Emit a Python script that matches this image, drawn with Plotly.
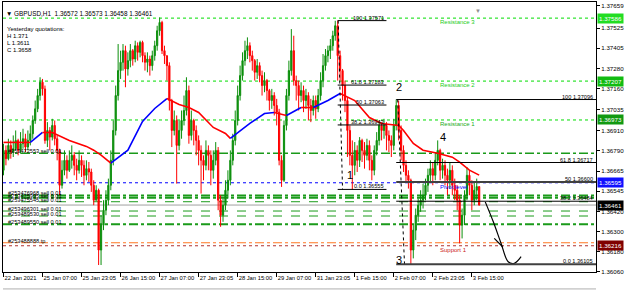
import plotly.graph_objects as go

# ---------------- data (GBPUSD H1) ----------------
first_open = 1.3667
closes = [
 1.3679,1.3674,1.3682,1.3678,1.3680,1.3685,1.3679,1.3683,1.3686,1.3681,
 1.3685,1.3689,1.3697,1.3704,1.3712,1.3720,1.3716,1.3685,1.3691,1.3687,
 1.3694,1.3686,1.3679,1.3658,1.3667,1.3673,1.3667,1.3673,1.3676,1.3670,
 1.3667,1.3673,1.3670,1.3664,1.3668,1.3666,1.3658,1.3649,1.3655,1.3619,
 1.3634,1.3643,1.3649,1.3658,1.3673,1.3691,1.3712,1.3727,1.3732,1.3739,
 1.3728,1.3733,1.3739,1.3734,1.3742,1.3738,1.3744,1.3736,1.3732,1.3734,
 1.3730,1.3736,1.3742,1.3751,1.3756,1.3739,1.3736,1.3730,1.3709,1.3691,
 1.3697,1.3682,1.3691,1.3697,1.3703,1.3715,1.3688,1.3697,1.3691,1.3685,
 1.3679,1.3673,1.3670,1.3679,1.3676,1.3667,1.3673,1.3679,1.3649,1.3640,
 1.3646,1.3655,1.3661,1.3673,1.3685,1.3697,1.3712,1.3724,1.3733,1.3739,
 1.3742,1.3736,1.3733,1.3726,1.3730,1.3724,1.3718,1.3721,1.3715,1.3709,
 1.3712,1.3706,1.3702,1.3673,1.3661,1.3694,1.3712,1.3727,1.3739,1.3721,
 1.3718,1.3712,1.3715,1.3709,1.3712,1.3706,1.3703,1.3709,1.3704,1.3712,
 1.3721,1.3730,1.3736,1.3739,1.3742,1.3748,1.3754,1.3736,1.3727,1.3718,
 1.3709,1.3691,1.3676,1.3670,1.3679,1.3673,1.3685,1.3679,1.3676,1.3682,
 1.3673,1.3667,1.3679,1.3685,1.3694,1.3691,1.3694,1.3688,1.3685,1.3682,
 1.3694,1.3706,1.3691,1.3679,1.3670,1.3664,1.3661,1.3619,1.3631,1.3640,
 1.3646,1.3649,1.3652,1.3658,1.3664,1.3668,1.3664,1.3673,1.3679,1.3667,
 1.3670,1.3664,1.3661,1.3667,1.3658,1.3655,1.3649,1.3634,1.3640,1.3652,
 1.3664,1.3658,1.3649,1.3655,1.36572,1.36461]
highs = [
 1.3683,1.3682,1.3686,1.3685,1.3688,1.3691,1.3686,1.3690,1.3692,1.3689,
 1.3691,1.3694,1.3700,1.3709,1.3716,1.3723,1.3722,1.3718,1.3696,1.3693,
 1.3698,1.3697,1.3688,1.3680,1.3673,1.3679,1.3676,1.3679,1.3682,1.3678,
 1.3674,1.3679,1.3676,1.3673,1.3673,1.3672,1.3668,1.3661,1.3658,1.3656,
 1.3640,1.3649,1.3655,1.3662,1.3679,1.3697,1.3718,1.3743,1.3739,1.3743,
 1.3742,1.3738,1.3743,1.3740,1.3745,1.3744,1.3745,1.3745,1.3738,1.3738,
 1.3736,1.3739,1.3745,1.3754,1.3759,1.3757,1.3742,1.3736,1.3732,1.3710,
 1.3703,1.3700,1.3697,1.3703,1.3712,1.3723,1.3718,1.3703,1.3698,1.3694,
 1.3688,1.3682,1.3676,1.3685,1.3682,1.3679,1.3679,1.3684,1.3681,1.3652,
 1.3650,1.3661,1.3667,1.3679,1.3689,1.3703,1.3718,1.3730,1.3738,1.3745,
 1.3747,1.3744,1.3739,1.3734,1.3734,1.3732,1.3727,1.3726,1.3722,1.3716,
 1.3716,1.3714,1.3710,1.3704,1.3676,1.3697,1.3716,1.3733,1.3752,1.3748,
 1.3724,1.3721,1.3720,1.3718,1.3716,1.3714,1.3710,1.3712,1.3712,1.3716,
 1.3726,1.3737,1.3740,1.3742,1.3746,1.3751,1.3757,1.37571,1.3739,1.3728,
 1.3721,1.3711,1.3694,1.3685,1.3684,1.3682,1.3687,1.3686,1.3684,1.3686,
 1.3685,1.3676,1.3682,1.3690,1.3697,1.3696,1.3698,1.3696,1.3691,1.3688,
 1.3698,1.37096,1.3709,1.3694,1.3682,1.3673,1.3667,1.3662,1.3634,1.3644,
 1.3650,1.3655,1.3659,1.3662,1.3668,1.3673,1.3672,1.3678,1.3685,1.3680,
 1.3674,1.3673,1.3668,1.3672,1.3670,1.3662,1.3658,1.3652,1.3644,1.3655,
 1.3669,1.3667,1.3661,1.3660,1.3662,1.36573]
lows = [
 1.3664,1.3670,1.3673,1.3674,1.3675,1.3679,1.3676,1.3677,1.3680,1.3678,
 1.3679,1.3682,1.3686,1.3695,1.3702,1.3709,1.3712,1.3683,1.3681,1.3679,
 1.3685,1.3682,1.3673,1.3652,1.3656,1.3664,1.3662,1.3666,1.3668,1.3664,
 1.3661,1.3665,1.3663,1.3658,1.3661,1.3660,1.3654,1.3646,1.3649,1.3610,
 1.3610,1.3631,1.3640,1.3646,1.3655,1.3670,1.3688,1.3709,1.3722,1.3727,
 1.3717,1.3724,1.3729,1.3730,1.3732,1.3733,1.3735,1.3732,1.3727,1.3726,
 1.3724,1.3727,1.3733,1.3739,1.3748,1.3737,1.3731,1.3721,1.3703,1.3681,
 1.3688,1.3659,1.3679,1.3686,1.3694,1.3700,1.3683,1.3685,1.3682,1.3676,
 1.3670,1.3653,1.3661,1.3667,1.3667,1.3658,1.3662,1.3670,1.3643,1.3633,
 1.3636,1.3643,1.3650,1.3658,1.3670,1.3682,1.3694,1.3709,1.3721,1.3730,
 1.3734,1.3732,1.3727,1.3721,1.3722,1.3720,1.3712,1.3714,1.3709,1.3703,
 1.3704,1.3700,1.3694,1.3670,1.3657,1.3660,1.3691,1.3709,1.3724,1.3718,
 1.3709,1.3703,1.3708,1.3702,1.3704,1.3697,1.3696,1.3700,1.3698,1.3702,
 1.3709,1.3717,1.3727,1.3732,1.3734,1.3739,1.3745,1.3721,1.3721,1.3709,
 1.3702,1.3675,1.3670,1.36555,1.3664,1.3666,1.3669,1.3672,1.3668,1.3673,
 1.3667,1.3661,1.3664,1.3676,1.3682,1.3685,1.3686,1.3679,1.3678,1.3675,
 1.3679,1.3691,1.3685,1.3673,1.3666,1.3660,1.3656,1.36105,1.3614,1.3625,
 1.3636,1.3642,1.3644,1.3649,1.3654,1.3660,1.3658,1.3661,1.3670,1.3661,
 1.3662,1.3658,1.3652,1.3656,1.3652,1.3649,1.3643,1.3623,1.3626,1.3634,
 1.3649,1.3652,1.3643,1.3646,1.3649,1.36458]

# moving average (read at points)
ma_bars = [0,11,16,20,27,34,37,40,44,51,57,62,67,72,76,80,86,91,93,101,107,111,
           116,122,127,133,138,144,150,155,162,164,168,172,178,184,187,191,195]
ma_vals = [1.36838,1.36838,1.36898,1.36898,1.36850,1.36814,1.36791,1.36761,1.36713,
           1.36791,1.36964,1.37042,1.37102,1.37066,1.37048,1.37018,1.36928,1.36892,
           1.36862,1.36952,1.37012,1.37018,1.37000,1.37048,1.37048,1.37090,1.37132,
           1.37090,1.36988,1.36952,1.36940,1.36910,1.36832,1.36791,1.36773,1.36749,
           1.36719,1.36671,1.36641]

time_ticks = [0,16,32,48,64,80,96,112,128,144,160,176,192]
time_labels = ["22 Jan 2021","25 Jan 07:00","25 Jan 23:05","26 Jan 15:00","27 Jan 07:00",
               "27 Jan 23:05","28 Jan 15:00","29 Jan 07:00","31 Jan 23:05","1 Feb 15:00",
               "2 Feb 07:00","2 Feb 23:05","3 Feb 15:00"]
price_ticks = [1.37659,1.37525,1.37405,1.37280,1.37160,1.37035,1.36910,1.36790,
               1.36665,1.36545,1.36420,1.36300,1.36180,1.36060]

# horizontal levels: (price, colour, dash, width)
levels = [
 (1.37586,"#00dd00","dot",1),
 (1.37207,"#00dd00","dot",1),
 (1.36973,"#00dd00","dot",1),
 (1.36772,"#1a9a1a","dashdot",1.5),
 (1.36595,"#0000ff","dot",1),
 (1.36519,"#1a9a1a","dashdot",2),
 (1.36505,"#1a9a1a","dashdot",2),
 (1.36481,"#1a9a1a","dash",1),
 (1.36461,"#a0a0a0","solid",1),
 (1.36425,"#1a9a1a","dash",1),
 (1.36395,"#1a9a1a","dash",1),
 (1.36346,"#1a9a1a","dashdot",2),
 (1.36234,"#ff7722","dashdot",1),
 (1.36216,"#b03030","dot",1),
]
order_labels = [(1.36772,"#253472553 sell 0.01"),(1.36519,"#253476968 sell 0.01"),
                (1.36505,"#253475995 sell 0.01"),(1.36481,"#253475545 sell 0.01"),
                (1.36425,"#253496301 sell 0.01"),(1.36395,"#253489530 sell 0.01"),
                (1.36346,"#253489550 sell 0.01"),(1.36234,"#253488888 tp")]
level_names = [(1.37586,"Resistance 3","#22cc22"),(1.37207,"Resistance 2","#22cc22"),
               (1.36973,"Resistance 1","#22aa22"),(1.36595,"Pivot level","#0000ff"),
               (1.36216,"Support 1","#cc2020")]
price_boxes = [(1.37586,"#22dd22"),(1.37207,"#11bb11"),(1.36973,"#119911"),
               (1.36595,"#1010ff"),(1.36461,"#000000"),(1.36216,"#800000")]

fib1_levels = [(1.37571,"100"),(1.37183,"61.8"),(1.37063,"50"),(1.36943,"38.2"),(1.36555,"0.0")]
fib1_span = (137, 157)
fib1_trend = ([137.2, 139.0], [1.37571, 1.36555])
fib2_levels = [(1.37096,"100"),(1.36717,"61.8"),(1.36600,"50"),(1.36484,"38.2"),(1.36105,"0.0")]
fib2_start = 161
fib2_trend = ([161.6, 164.4], [1.37096, 1.36105])

wave_labels = [(142,1.3664,"1"),(162,1.37174,"2"),(162,1.3613,"3"),(180,1.3687,"4")]
arrow_bars = [197.5,200.8,204.0,206.9,209.4,212.2]
arrow_vals = [1.3648,1.3636,1.3623,1.3612,1.3611,1.3615]
arrow_tick_bars = [201.2,204.6]
arrow_tick_vals = [1.3626,1.3621]

# ---------------- figure ----------------
GREEN = "#0c8f0c"
RED = "#ff0000"
n = len(closes)
bars = list(range(n))
opens = [first_open] + closes[:-1]

fig = go.Figure()
fig.add_trace(go.Candlestick(
    x=bars, open=opens, high=highs, low=lows, close=closes,
    increasing=dict(line=dict(color=GREEN, width=1), fillcolor=GREEN),
    decreasing=dict(line=dict(color=RED, width=1), fillcolor=RED),
    whiskerwidth=0, showlegend=False, hoverinfo="skip"))

# MA coloured by slope, drawn in runs
runs = []
for i in range(len(ma_bars) - 1):
    col = "#0000ff" if ma_vals[i + 1] > ma_vals[i] else "#ff0000"
    if runs and runs[-1][0] == col:
        runs[-1][1].append(i + 1)
    else:
        runs.append([col, [i, i + 1]])
for col, idx in runs:
    fig.add_trace(go.Scatter(x=[ma_bars[k] for k in idx], y=[ma_vals[k] for k in idx],
                             mode="lines", line=dict(color=col, width=1.6),
                             showlegend=False, hoverinfo="skip"))

shapes = []
for p, c, d, w in levels:
    shapes.append(dict(type="line", xref="paper", x0=0, x1=1, yref="y", y0=p, y1=p,
                       line=dict(color=c, dash=d, width=w), layer="below"))
for p, _ in fib1_levels:
    shapes.append(dict(type="line", xref="x", x0=fib1_span[0], x1=fib1_span[1], yref="y",
                       y0=p, y1=p, line=dict(color="#000000", width=1)))
for p, name in fib2_levels:
    thick = name in ("50", "0.0")
    shapes.append(dict(type="line", xref="x", x0=fib2_start, x1=245, yref="y",
                       y0=p, y1=p, line=dict(color="#404040" if thick else "#000000",
                                             width=2 if thick else 1)))
annotations = []
fs = 5.6
for p, txt in order_labels:
    annotations.append(dict(x=1, xref="x", xanchor="left", y=p, yref="y", yanchor="bottom",
                            yshift=-3, text=txt, showarrow=False,
                            font=dict(size=fs, color="#000000", family="Liberation Sans")))
for p, txt, c in level_names:
    annotations.append(dict(x=178, xref="x", xanchor="left", y=p, yref="y", yanchor="top",
                            yshift=1, text=txt, showarrow=False,
                            font=dict(size=6, color=c, family="Liberation Sans")))
for p, name in fib1_levels:
    annotations.append(dict(x=fib1_span[1], xref="x", xanchor="right", y=p, yref="y",
                            yanchor="bottom", yshift=-2, text=f"{name} {p:.5f}", showarrow=False,
                            font=dict(size=fs, color="#000000", family="Liberation Sans")))
for p, name in fib2_levels:
    annotations.append(dict(x=1, xref="paper", xanchor="right", xshift=-1, y=p, yref="y",
                            yanchor="bottom", yshift=-2, text=f"{name} {p:.5f}", showarrow=False,
                            font=dict(size=fs, color="#000000", family="Liberation Sans")))
for p, bg in price_boxes:
    annotations.append(dict(x=1, xref="paper", xanchor="left", xshift=1, y=p, yref="y",
                            text=f"{p:.5f}", showarrow=False, bgcolor=bg, borderpad=1,
                            font=dict(size=6.2, color="#ffffff", family="Liberation Sans")))
for b, p, t in wave_labels:
    annotations.append(dict(x=b, y=p, xref="x", yref="y", text=t, showarrow=False,
                            font=dict(size=11, color="#000000", family="Liberation Sans")))

fig.add_trace(go.Scatter(x=fib1_trend[0], y=fib1_trend[1], mode="lines",
                         line=dict(color="#000000", dash="dot", width=1),
                         showlegend=False, hoverinfo="skip"))
fig.add_trace(go.Scatter(x=fib2_trend[0], y=fib2_trend[1], mode="lines",
                         line=dict(color="#000000", dash="dot", width=1),
                         showlegend=False, hoverinfo="skip"))
fig.add_trace(go.Scatter(x=arrow_bars, y=arrow_vals, mode="lines",
                         line=dict(color="#000000", width=1.2, shape="spline"),
                         showlegend=False, hoverinfo="skip"))
fig.add_trace(go.Scatter(x=arrow_tick_bars, y=arrow_tick_vals, mode="lines",
                         line=dict(color="#000000", width=1.2),
                         showlegend=False, hoverinfo="skip"))

# header texts (pixel-based positions in paper coords)
def py(y):
    return 1 - (y - 1) / 271.0
def px(x):
    return (x - 3) / 595.0

annotations.append(dict(x=px(4), y=py(7), xref="paper", yref="paper", xanchor="left",
                        text="▼ GBPUSD,H1  1.36572 1.36573 1.36458 1.36461", showarrow=False,
                        font=dict(size=6.4, color="#000000", family="Liberation Sans")))
for yy, t in [(23, "Yesterday quotations:"), (30.5, "H 1.371"), (37.5, "L 1.3611"), (44.5, "C 1.3658")]:
    annotations.append(dict(x=px(5), y=py(yy), xref="paper", yref="paper", xanchor="left",
                            text=t, showarrow=False,
                            font=dict(size=6, color="#000000", family="Liberation Sans")))
annotations.append(dict(x=px(485), y=py(4), xref="paper", yref="paper", text="▼",
                        showarrow=False, font=dict(size=6, color="#909090")))
shapes.append(dict(type="line", xref="paper", x0=0, x1=1, yref="paper",
                   y0=py(289), y1=py(289), line=dict(color="#b0b0b0", width=1)))

fig.update_layout(
    width=625, height=291, margin=dict(l=3, r=27, t=1, b=19),
    paper_bgcolor="#ffffff", plot_bgcolor="#ffffff",
    shapes=shapes, annotations=annotations, showlegend=False,
    xaxis=dict(range=[-0.2, 242.9], tickvals=time_ticks, ticktext=time_labels,
               ticks="outside", ticklen=4, tickcolor="#000000", tickangle=0,
               ticklabelposition="outside right",
               tickfont=dict(size=5.8, color="#000000", family="Liberation Sans"),
               showline=True, linecolor="#000000", linewidth=1, mirror=True,
               showgrid=False, zeroline=False, rangeslider=dict(visible=False), fixedrange=True),
    yaxis=dict(range=[1.36058, 1.37683], side="right", tickvals=price_ticks,
               ticktext=[f"{v:.5f}" for v in price_ticks],
               ticks="outside", ticklen=3, tickcolor="#000000",
               tickfont=dict(size=6.2, color="#000000", family="Liberation Sans"),
               showline=True, linecolor="#000000", linewidth=1, mirror=True,
               showgrid=False, zeroline=False, fixedrange=True),
)
fig.write_html("out.html")
